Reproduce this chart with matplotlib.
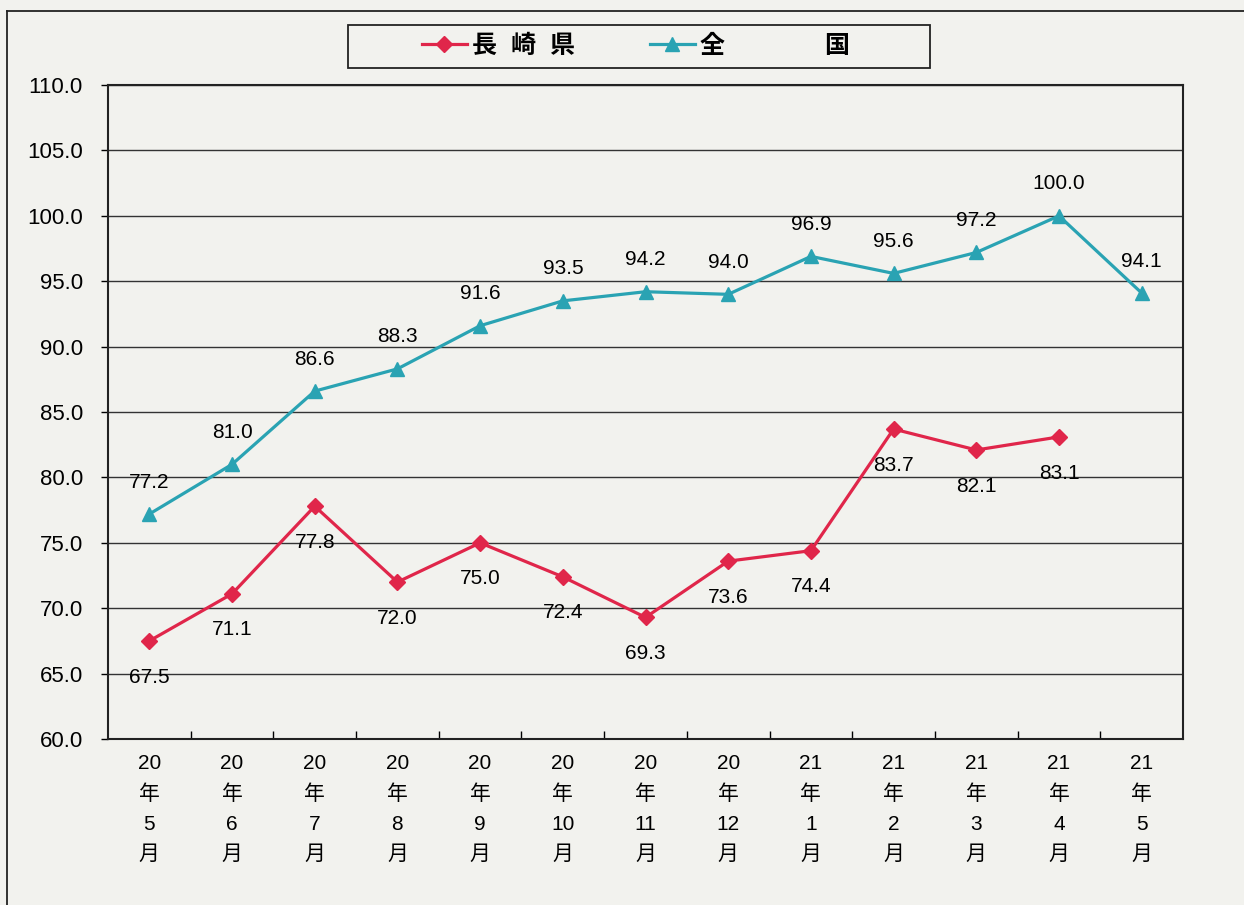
import matplotlib.pyplot as plt
from matplotlib.lines import Line2D
from matplotlib.patches import Rectangle

plt.rcParams['font.family'] = ['Liberation Sans', 'Noto Sans CJK JP']

months = ['20\n年\n5\n月', '20\n年\n6\n月', '20\n年\n7\n月', '20\n年\n8\n月', '20\n年\n9\n月',
          '20\n年\n10\n月', '20\n年\n11\n月', '20\n年\n12\n月', '21\n年\n1\n月', '21\n年\n2\n月',
          '21\n年\n3\n月', '21\n年\n4\n月', '21\n年\n5\n月']
nagasaki = [67.5, 71.1, 77.8, 72.0, 75.0, 72.4, 69.3, 73.6, 74.4, 83.7, 82.1, 83.1]
zenkoku = [77.2, 81.0, 86.6, 88.3, 91.6, 93.5, 94.2, 94.0, 96.9, 95.6, 97.2, 100.0, 94.1]

red = '#e0264a'
teal = '#2aa3b3'
bg = '#f2f2ee'

fig = plt.figure(figsize=(12.44, 9.05), dpi=100, facecolor=bg)
ax = fig.add_axes([0.0868, 0.1834, 0.8642, 0.7226])
ax.set_facecolor(bg)

x = list(range(len(months)))
ax.plot(x[:len(nagasaki)], nagasaki, color=red, lw=2.3, marker='D', ms=8, label='長  崎  県')
ax.plot(x, zenkoku, color=teal, lw=2.3, marker='^', ms=10, label='全' + '\u3000' * 4 + '国')

for i, v in enumerate(nagasaki):
    ax.annotate(f'{v:.1f}', (i, v), xytext=(0, -26), textcoords='offset points',
                ha='center', va='center', fontsize=15)
for i, v in enumerate(zenkoku):
    ax.annotate(f'{v:.1f}', (i, v), xytext=(0, 23), textcoords='offset points',
                ha='center', va='center', fontsize=15)

ax.set_xlim(-0.5, len(months) - 0.5)
ax.set_ylim(60, 110)
ax.set_yticks(range(60, 111, 5))
ax.set_yticklabels([f'{t:.1f}' for t in range(60, 111, 5)], fontsize=16)
ax.tick_params(axis='y', length=5, width=1, pad=13)
ax.yaxis.grid(True, color='#333333', lw=1)
ax.set_axisbelow(True)

ax.set_xticks(x)
ax.set_xticklabels(months, fontsize=15, linespacing=1.72)
ax.tick_params(axis='x', length=0, pad=11)
ax.set_xticks([i + 0.5 for i in x[:-1]], minor=True)
ax.tick_params(axis='x', which='minor', direction='in', length=6, width=1)

for s in ax.spines.values():
    s.set_linewidth(1.5)
    s.set_color('#222222')

leg = ax.legend(loc='center', bbox_to_anchor=(0.511, 0.949), bbox_transform=fig.transFigure,
                ncol=2, fontsize=18, frameon=False, handlelength=1.8, columnspacing=3.0,
                handletextpad=0.2, borderaxespad=0, borderpad=0)
for t in leg.get_texts():
    t.set_fontweight('bold')

# legend frame, outer page frame
fig.add_artist(Rectangle((348 / 1244, 1 - 68 / 905), (930 - 348) / 1244, 43 / 905,
                         transform=fig.transFigure, fill=False, edgecolor='#222222', lw=1.3))
fig.add_artist(Line2D([0.0056, 0.0056], [0, 0.988], transform=fig.transFigure, color='#222222', lw=1.3))
fig.add_artist(Line2D([0.0056, 1.0], [0.988, 0.988], transform=fig.transFigure, color='#222222', lw=1.3))

fig.savefig('out.png', dpi=100, facecolor=bg)
